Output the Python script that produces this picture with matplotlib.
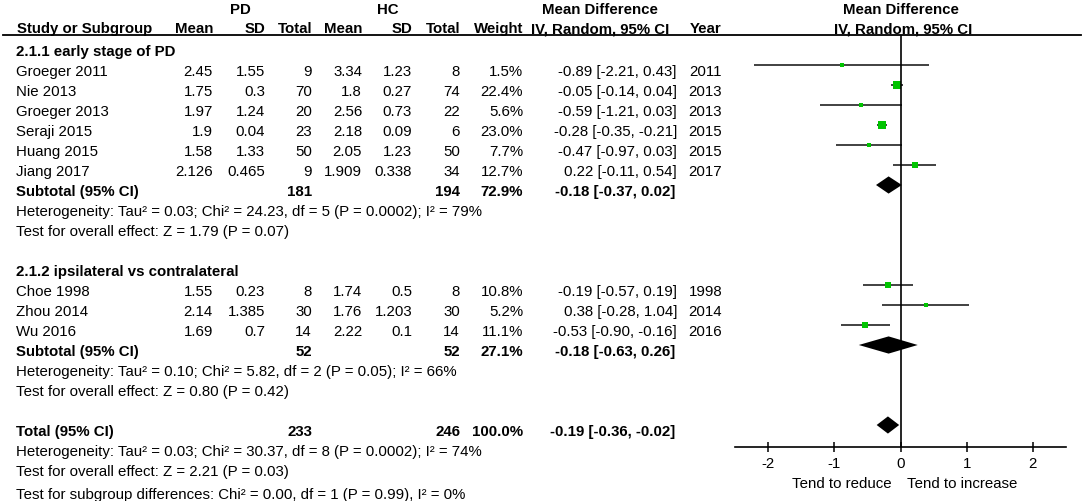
import matplotlib
matplotlib.use("Agg")
import matplotlib.pyplot as plt

plt.rcParams['font.family'] = ['Liberation Sans', 'DejaVu Sans']

# study data, group 1 then group 2
studies = ["Groeger 2011", "Nie 2013", "Groeger 2013", "Seraji 2015", "Huang 2015", "Jiang 2017",
           "Choe 1998", "Zhou 2014", "Wu 2016"]
group = [1, 1, 1, 1, 1, 1, 2, 2, 2]
pd_mean = [2.45, 1.75, 1.97, 1.9, 1.58, 2.126, 1.55, 2.14, 1.69]
pd_sd = [1.55, 0.3, 1.24, 0.04, 1.33, 0.465, 0.23, 1.385, 0.7]
pd_n = [9, 70, 20, 23, 50, 9, 8, 30, 14]
hc_mean = [3.34, 1.8, 2.56, 2.18, 2.05, 1.909, 1.74, 1.76, 2.22]
hc_sd = [1.23, 0.27, 0.73, 0.09, 1.23, 0.338, 0.5, 1.203, 0.1]
hc_n = [8, 74, 22, 6, 50, 34, 8, 30, 14]
weight = [1.5, 22.4, 5.6, 23.0, 7.7, 12.7, 10.8, 5.2, 11.1]
md = [-0.89, -0.05, -0.59, -0.28, -0.47, 0.22, -0.19, 0.38, -0.53]
md_lo = [-2.21, -0.14, -1.21, -0.35, -0.97, -0.11, -0.57, -0.28, -0.90]
md_hi = [0.43, 0.04, 0.03, -0.21, 0.03, 0.54, 0.19, 1.04, -0.16]
year = [2011, 2013, 2013, 2015, 2015, 2017, 1998, 2014, 2016]

# pooled results: subgroup 1, subgroup 2, total
pool_label = ["Subtotal (95% CI)", "Subtotal (95% CI)", "Total (95% CI)"]
pool_pd_n = [181, 52, 233]
pool_hc_n = [194, 52, 246]
pool_weight = [72.9, 27.1, 100.0]
pool_md = [-0.18, -0.18, -0.19]
pool_lo = [-0.37, -0.63, -0.36]
pool_hi = [0.02, 0.26, -0.02]

headings = ["2.1.1 early stage of PD", "2.1.2 ipsilateral vs contralateral"]
notes1 = ["Heterogeneity: Tau\u00b2 = 0.03; Chi\u00b2 = 24.23, df = 5 (P = 0.0002); I\u00b2 = 79%",
          "Test for overall effect: Z = 1.79 (P = 0.07)"]
notes2 = ["Heterogeneity: Tau\u00b2 = 0.10; Chi\u00b2 = 5.82, df = 2 (P = 0.05); I\u00b2 = 66%",
          "Test for overall effect: Z = 0.80 (P = 0.42)"]
notes_total = ["Heterogeneity: Tau\u00b2 = 0.03; Chi\u00b2 = 30.37, df = 8 (P = 0.0002); I\u00b2 = 74%",
               "Test for overall effect: Z = 2.21 (P = 0.03)",
               "Test for subgroup differences: Chi\u00b2 = 0.00, df = 1 (P = 0.99), I\u00b2 = 0%"]

xticks = [-2, -1, 0, 1, 2]

W, H = 1084, 502
fig = plt.figure(figsize=(W / 100, H / 100), dpi=100)

# text layer in pixel coordinates
ax_t = fig.add_axes([0, 0, 1, 1])
ax_t.set_xlim(0, W)
ax_t.set_ylim(H, 0)
ax_t.axis("off")

# forest layer
top_px, bot_px, left_px, right_px = 36, 448, 735, 1066
ax_f = fig.add_axes([left_px / W, (H - bot_px) / H, (right_px - left_px) / W, (bot_px - top_px) / H])
ax_f.set_xlim(-2.5, 2.5)
row0, step = 46, 20
ax_f.set_ylim((bot_px - row0) / step, (top_px - row0) / step)
ax_f.patch.set_alpha(0)

fs = 10.8
col_x = [213, 265, 312, 362, 412, 460, 523, 677, 722]


def row_y(r):
    return row0 + step * r + 10


def txt(x, y, s, ha="left", bold=False):
    ax_t.text(x, y, s, ha=ha, va="baseline", fontsize=fs,
              fontweight="bold" if bold else "normal", color="black")


# headers
txt(240, 14, "PD", ha="center", bold=True)
txt(388, 14, "HC", ha="center", bold=True)
txt(600, 14, "Mean Difference", ha="center", bold=True)
txt(901, 14, "Mean Difference", ha="center", bold=True)
txt(17, 33, "Study or Subgroup", bold=True)
for x, s in zip(col_x[:7], ["Mean", "SD", "Total", "Mean", "SD", "Total", "Weight"]):
    txt(x, 33, s, ha="right", bold=True)
txt(600, 33, "IV, Random, 95% CI", ha="center", bold=True)
txt(722, 33, "Year", ha="right", bold=True)
txt(903, 33, "IV, Random, 95% CI", ha="center", bold=True)
ax_t.plot([3, 1081], [35.5, 35.5], color="black", lw=1.3)

# body rows
r = 0
for g in (1, 2):
    txt(16, row_y(r), headings[g - 1], bold=True)
    r += 1
    for i in range(len(studies)):
        if group[i] != g:
            continue
        y = row_y(r)
        txt(16, y, studies[i])
        vals = [str(pd_mean[i]), str(pd_sd[i]), str(pd_n[i]), str(hc_mean[i]), str(hc_sd[i]),
                str(hc_n[i]), f"{weight[i]:.1f}%",
                f"{md[i]:.2f} [{md_lo[i]:.2f}, {md_hi[i]:.2f}]", str(year[i])]
        for x, s in zip(col_x, vals):
            txt(x, y, s, ha="right")
        ax_f.plot([md_lo[i], md_hi[i]], [r, r], color="#333333", lw=1.3, solid_capstyle="butt")
        side = 3.2 + 0.22 * weight[i]
        ax_f.plot(md[i], r, marker="s", ms=side * 0.72, color="#00c400", mec="#00c400", mew=0)
        r += 1
    k = g - 1
    y = row_y(r)
    txt(16, y, pool_label[k], bold=True)
    txt(col_x[2], y, str(pool_pd_n[k]), ha="right", bold=True)
    txt(col_x[5], y, str(pool_hc_n[k]), ha="right", bold=True)
    txt(col_x[6], y, f"{pool_weight[k]:.1f}%", ha="right", bold=True)
    txt(col_x[7] - 2, y, f"{pool_md[k]:.2f} [{pool_lo[k]:.2f}, {pool_hi[k]:.2f}]", ha="right", bold=True)
    ax_f.fill([pool_lo[k], pool_md[k], pool_hi[k], pool_md[k]], [r, r - 0.43, r, r + 0.43],
              color="black", lw=0)
    r += 1
    for s in (notes1 if g == 1 else notes2):
        txt(16, row_y(r), s)
        r += 1
    r += 1

# total
y = row_y(r)
txt(16, y, pool_label[2], bold=True)
txt(col_x[2], y, str(pool_pd_n[2]), ha="right", bold=True)
txt(col_x[5], y, str(pool_hc_n[2]), ha="right", bold=True)
txt(col_x[6], y, f"{pool_weight[2]:.1f}%", ha="right", bold=True)
txt(col_x[7] - 2, y, f"{pool_md[2]:.2f} [{pool_lo[2]:.2f}, {pool_hi[2]:.2f}]", ha="right", bold=True)
ax_f.fill([pool_lo[2], pool_md[2], pool_hi[2], pool_md[2]], [r, r - 0.43, r, r + 0.43],
          color="black", lw=0)
r += 1
for s in notes_total:
    txt(16, row_y(r) + (3 if s.startswith("Test for sub") else 0), s)
    r += 1

# axis styling
ax_f.axvline(0, color="black", lw=1.2)
for side_name in ("top", "left", "right"):
    ax_f.spines[side_name].set_visible(False)
ax_f.spines["bottom"].set_linewidth(1.2)
ax_f.set_yticks([])
ax_f.set_xticks(xticks)
ax_f.set_xticklabels([str(t) for t in xticks])
ax_f.tick_params(axis="x", direction="inout", length=7, width=1.1, pad=3, labelsize=fs)

txt(892, 488, "Tend to reduce", ha="right")
txt(907, 488, "Tend to increase")

fig.savefig("out.png", dpi=100)
